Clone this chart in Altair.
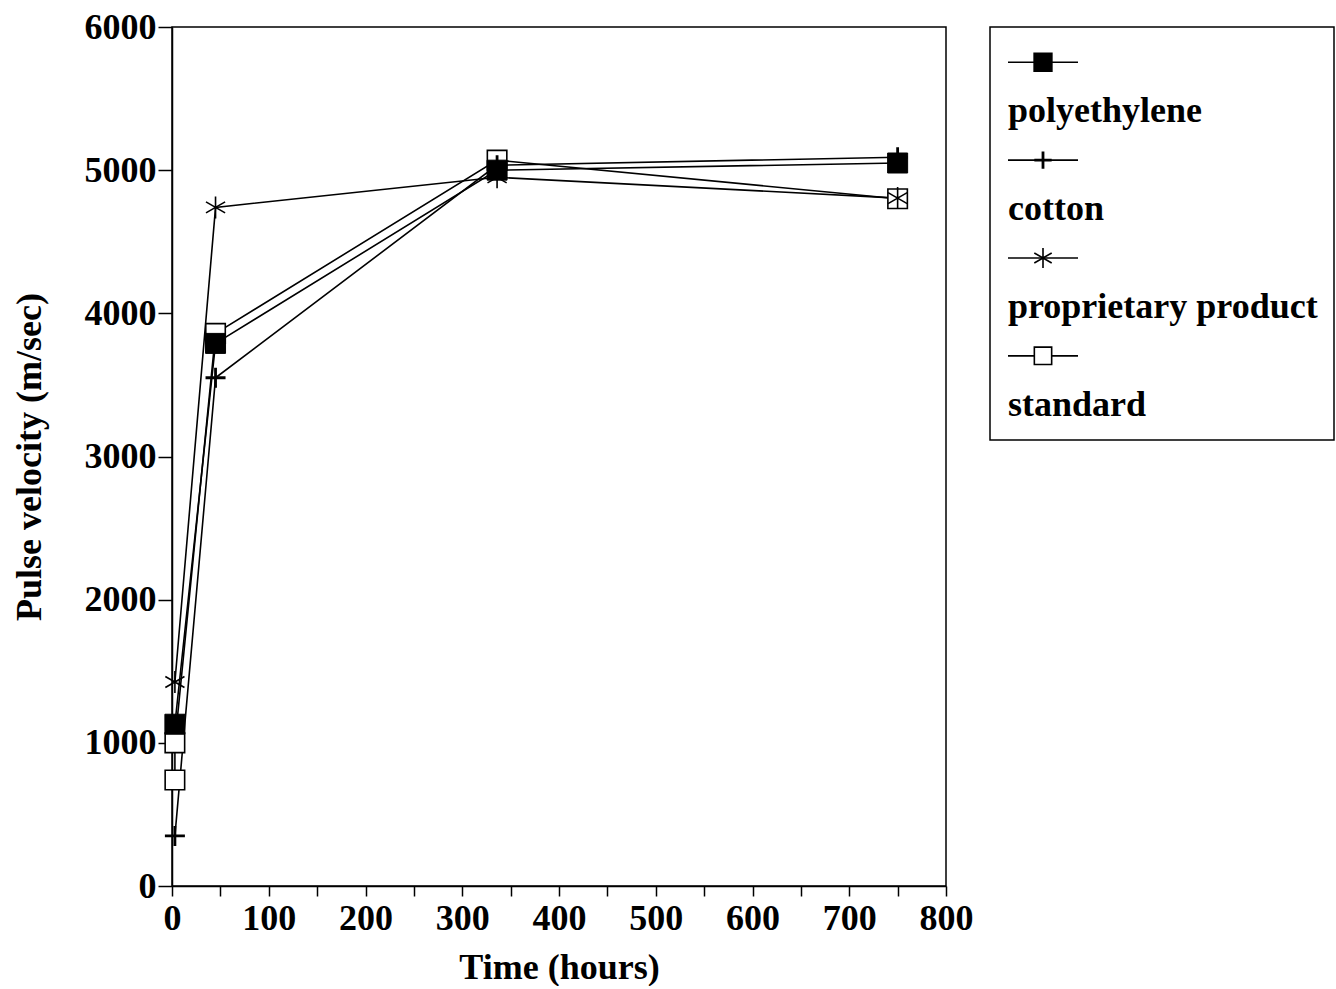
import altair as alt
import pandas as pd

series_names = ["polyethylene", "cotton", "proprietary product", "standard"]

poly_time = [3, 45, 336, 750]
poly_vel = [1130, 3790, 5000, 5050]

cotton_time = [3, 45, 336, 750]
cotton_vel = [350, 3550, 5035, 5090]

prop_time = [3, 45, 336, 750]
prop_vel = [1425, 4740, 4950, 4805]

std_time = [3, 3, 45, 336, 750]
std_vel = [740, 1000, 3860, 5070, 4800]

x_ticks = list(range(0, 801, 50))
y_ticks = [0, 1000, 2000, 3000, 4000, 5000, 6000]

rows = []
for name, ts, vs in [
    ("polyethylene", poly_time, poly_vel),
    ("cotton", cotton_time, cotton_vel),
    ("proprietary product", prop_time, prop_vel),
    ("standard", std_time, std_vel),
]:
    for i, (t, v) in enumerate(zip(ts, vs)):
        rows.append({"series": name, "time": t, "vel": v, "idx": i})
df = pd.DataFrame(rows)

FONT = "Liberation Serif"
FS = 36

PLUS = "M-1,0H1M0,-1V1"
STAR = "M0,-1V1M-0.87,-0.5L0.87,0.5M-0.87,0.5L0.87,-0.5"

x_enc = alt.X("time:Q", scale=alt.Scale(domain=[0, 800], nice=False),
              axis=alt.Axis(values=x_ticks, title="Time (hours)", format="d",
                            labelExpr="datum.value % 100 == 0 ? datum.label : ''",
                            labelFlush=False, labelOverlap=False,
                            tickSize=10, labelPadding=5, titlePadding=14,
                            grid=False))
y_enc = alt.Y("vel:Q", scale=alt.Scale(domain=[0, 6000], nice=False),
              axis=alt.Axis(values=y_ticks, title="Pulse velocity (m/sec)",
                            format="d", labelFlush=False, labelOverlap=False,
                            tickSize=14, labelPadding=2, titlePadding=36,
                            grid=False))

base = alt.Chart(df)

lines = base.mark_line(color="black", strokeWidth=1.6).encode(
    x=x_enc, y=y_enc, detail="series:N", order="idx:Q")


def pts(name, **mk):
    return base.transform_filter(alt.datum.series == name).mark_point(
        opacity=1, **mk).encode(x="time:Q", y="vel:Q")


p_std = pts("standard", shape="square", size=380, filled=False, fill="white",
            fillOpacity=1, stroke="black", strokeWidth=1.6)
p_prop = pts("proprietary product", shape=STAR, size=484, stroke="black",
             strokeWidth=1.6, filled=False)
p_cot = pts("cotton", shape=PLUS, size=400, stroke="black", strokeWidth=2.8,
            filled=False)
p_poly = pts("polyethylene", shape="square", size=400, filled=True,
             fill="black", stroke="black", strokeWidth=1)

main = alt.layer(lines, p_std, p_prop, p_cot, p_poly).properties(
    width=774, height=859)

# legend panel
leg_rows = []
for k, name in enumerate(series_names):
    leg_rows.append({"series": name, "row": 2 * k, "kind": "sym"})
    leg_rows.append({"series": name, "row": 2 * k + 1, "kind": "lab"})
ldf = pd.DataFrame(leg_rows)
lbase = alt.Chart(ldf)
ly = alt.Y("row:O", axis=None, scale=alt.Scale(type="point", padding=0.72))

sym = lbase.transform_filter(alt.datum.kind == "sym")
leg_line = sym.mark_rule(color="black", strokeWidth=1.6).encode(
    x=alt.value(18), x2=alt.value(88), y=ly)


def lpt(name, **mk):
    return sym.transform_filter(alt.datum.series == name).mark_point(
        opacity=1, **mk).encode(x=alt.value(53), y=ly)


l_poly = lpt("polyethylene", shape="square", size=300, filled=True,
             fill="black", stroke="black")
l_cot = lpt("cotton", shape=PLUS, size=300, stroke="black", strokeWidth=2.8,
            filled=False)
l_prop = lpt("proprietary product", shape=STAR, size=400, stroke="black",
             strokeWidth=1.6, filled=False)
l_std = lpt("standard", shape="square", size=300, filled=False, fill="white",
            fillOpacity=1, stroke="black", strokeWidth=1.6)
leg_text = lbase.transform_filter(alt.datum.kind == "lab").mark_text(
    align="left", baseline="middle", font=FONT, fontSize=FS, fontWeight="bold",
    color="black").encode(x=alt.value(18), y=ly, text="series:N")

legend = alt.layer(leg_line, l_poly, l_cot, l_prop, l_std, leg_text).properties(
    width=344, height=413)

chart = alt.hconcat(main, legend, spacing=44, bounds="flush").properties(
    padding={"left": 10, "top": 8, "right": 0, "bottom": 0},
    background="white"
).configure_view(stroke="black", strokeWidth=1.5).configure_axis(
    labelFont=FONT, labelFontSize=FS, labelFontWeight="bold", labelColor="black",
    titleFont=FONT, titleFontSize=FS, titleFontWeight="bold", titleColor="black",
    domainColor="black", tickColor="black", domainWidth=1.5, tickWidth=1.5
)

chart.save("out.html", embed_options={"renderer": "svg", "actions": False})
